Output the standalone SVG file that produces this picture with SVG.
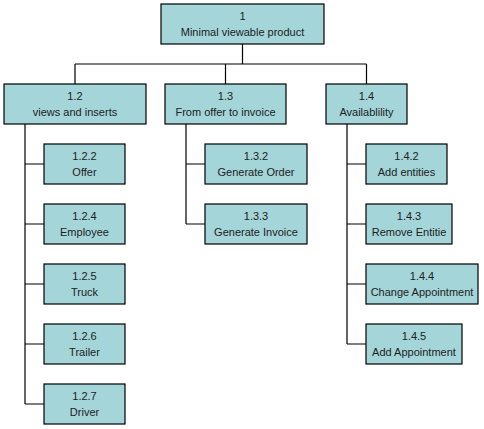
<svg xmlns="http://www.w3.org/2000/svg" width="484" height="429" viewBox="0 0 484 429">
<style>
rect.n{fill:#a3d5d9;stroke:#000;stroke-width:1.2}
text{font-family:"Liberation Sans",Arial,sans-serif;font-size:11px;fill:#222;text-anchor:middle}
.c{fill:none;stroke:#000;stroke-width:1.2}
</style>
<rect width="484" height="429" fill="#fff"/>
<g id="connectors">
<path class="c" d="M242.5 44V64M75 64H366.5M75 64V84M225.5 64V84M366.5 64V84"/>
<path class="c" d="M25 124V404M25 164H44M25 224H44M25 284H44M25 344H44M25 404H44"/>
<path class="c" d="M186 124V224M186 164H205M186 224H205"/>
<path class="c" d="M347 124V344M347 164H366M347 224H366M347 284H366M347 344H366"/>
</g>
<g id="n1"><rect class="n" x="161" y="4" width="163" height="40"/><text x="242.5" y="20">1</text><text x="242.5" y="36">Minimal viewable product</text></g>
<g id="n1_2"><rect class="n" x="4" y="84" width="142" height="40"/><text x="75" y="100">1.2</text><text x="75" y="116">views and inserts</text></g>
<g id="n1_3"><rect class="n" x="165" y="84" width="121" height="40"/><text x="225.5" y="100">1.3</text><text x="225.5" y="116">From offer to invoice</text></g>
<g id="n1_4"><rect class="n" x="326" y="84" width="81" height="40"/><text x="366.5" y="100">1.4</text><text x="366.5" y="116">Availablility</text></g>
<g id="n1_2_2"><rect class="n" x="44" y="144" width="81" height="40"/><text x="84.5" y="160">1.2.2</text><text x="84.5" y="176">Offer</text></g>
<g id="n1_2_4"><rect class="n" x="44" y="204" width="81" height="40"/><text x="84.5" y="220">1.2.4</text><text x="84.5" y="236">Employee</text></g>
<g id="n1_2_5"><rect class="n" x="44" y="264" width="81" height="40"/><text x="84.5" y="280">1.2.5</text><text x="84.5" y="296">Truck</text></g>
<g id="n1_2_6"><rect class="n" x="44" y="324" width="81" height="40"/><text x="84.5" y="340">1.2.6</text><text x="84.5" y="356">Trailer</text></g>
<g id="n1_2_7"><rect class="n" x="44" y="384" width="81" height="40"/><text x="84.5" y="400">1.2.7</text><text x="84.5" y="416">Driver</text></g>
<g id="n1_3_2"><rect class="n" x="205" y="144" width="102" height="40"/><text x="256" y="160">1.3.2</text><text x="256" y="176">Generate Order</text></g>
<g id="n1_3_3"><rect class="n" x="205" y="204" width="102" height="40"/><text x="256" y="220">1.3.3</text><text x="256" y="236">Generate Invoice</text></g>
<g id="n1_4_2"><rect class="n" x="366" y="144" width="81" height="40"/><text x="406.5" y="160">1.4.2</text><text x="406.5" y="176">Add entities</text></g>
<g id="n1_4_3"><rect class="n" x="366" y="204" width="86" height="40"/><text x="409" y="220">1.4.3</text><text x="409" y="236">Remove Entitie</text></g>
<g id="n1_4_4"><rect class="n" x="366" y="264" width="112" height="40"/><text x="422" y="280">1.4.4</text><text x="422" y="296">Change Appointment</text></g>
<g id="n1_4_5"><rect class="n" x="366" y="324" width="96" height="40"/><text x="414" y="340">1.4.5</text><text x="414" y="356">Add Appointment</text></g>
</svg>
